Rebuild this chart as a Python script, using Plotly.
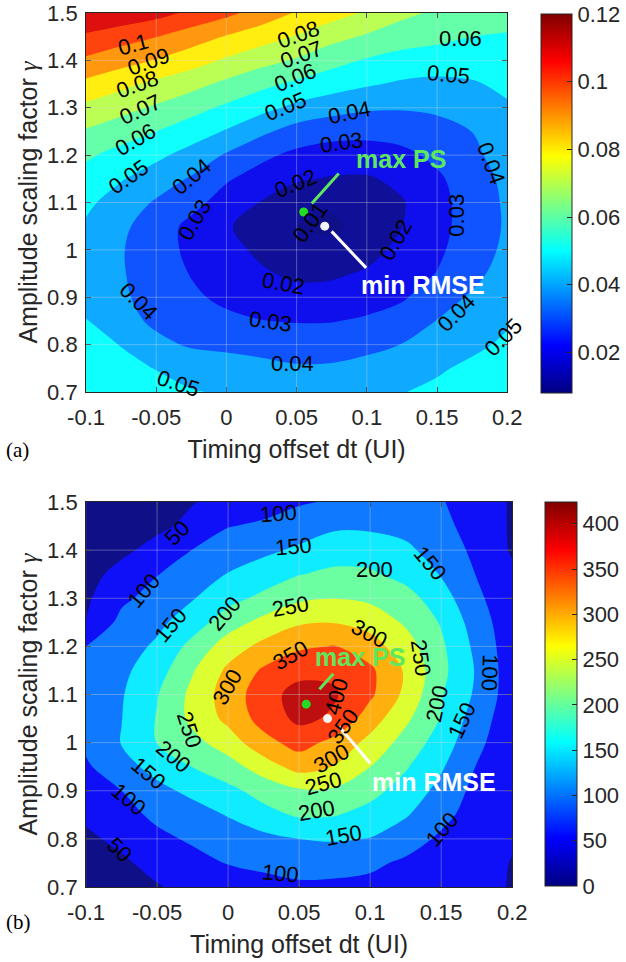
import plotly.graph_objects as go

# ---------------- data ----------------
dt_vals = [-0.1, -0.075, -0.05, -0.025, 0.0, 0.025, 0.05, 0.075, 0.1, 0.125, 0.15, 0.175, 0.2]
gamma_vals = [1.5, 1.45, 1.4, 1.35, 1.3, 1.25, 1.2, 1.15, 1.1, 1.05, 1.0,
              0.95, 0.9, 0.85, 0.8, 0.75, 0.7]          # rows listed top -> bottom

# (a) RMSE surface, rows follow gamma_vals
rmse_rows = [
    [0.1200, 0.1170, 0.1135, 0.1080, 0.1025, 0.0958, 0.0891, 0.0840, 0.0787, 0.0724, 0.0684, 0.0657, 0.0630],
    [0.1082, 0.1042, 0.1002, 0.0948, 0.0893, 0.0843, 0.0792, 0.0733, 0.0687, 0.0645, 0.0629, 0.0600, 0.0593],
    [0.0983, 0.0939, 0.0895, 0.0843, 0.0785, 0.0733, 0.0690, 0.0631, 0.0590, 0.0563, 0.0545, 0.0546, 0.0557],
    [0.0874, 0.0825, 0.0776, 0.0732, 0.0677, 0.0625, 0.0580, 0.0546, 0.0511, 0.0486, 0.0479, 0.0490, 0.0521],
    [0.0776, 0.0732, 0.0686, 0.0635, 0.0582, 0.0530, 0.0476, 0.0437, 0.0413, 0.0408, 0.0419, 0.0447, 0.0488],
    [0.0689, 0.0645, 0.0600, 0.0548, 0.0491, 0.0420, 0.0358, 0.0335, 0.0329, 0.0340, 0.0360, 0.0401, 0.0470],
    [0.0615, 0.0567, 0.0521, 0.0464, 0.0389, 0.0320, 0.0278, 0.0255, 0.0254, 0.0275, 0.0323, 0.0378, 0.0446],
    [0.0564, 0.0507, 0.0451, 0.0390, 0.0310, 0.0262, 0.0212, 0.0192, 0.0190, 0.0222, 0.0284, 0.0353, 0.0424],
    [0.0520, 0.0455, 0.0389, 0.0330, 0.0260, 0.0195, 0.0137, 0.0118, 0.0140, 0.0193, 0.0269, 0.0344, 0.0415],
    [0.0488, 0.0421, 0.0347, 0.0275, 0.0211, 0.0152, 0.0097, 0.0083, 0.0133, 0.0199, 0.0270, 0.0343, 0.0412],
    [0.0462, 0.0407, 0.0341, 0.0279, 0.0228, 0.0182, 0.0130, 0.0131, 0.0172, 0.0222, 0.0282, 0.0354, 0.0420],
    [0.0458, 0.0408, 0.0351, 0.0295, 0.0253, 0.0211, 0.0182, 0.0188, 0.0209, 0.0256, 0.0303, 0.0370, 0.0445],
    [0.0475, 0.0414, 0.0364, 0.0317, 0.0278, 0.0258, 0.0233, 0.0231, 0.0260, 0.0288, 0.0355, 0.0413, 0.0465],
    [0.0503, 0.0431, 0.0383, 0.0355, 0.0322, 0.0302, 0.0295, 0.0296, 0.0313, 0.0345, 0.0403, 0.0447, 0.0490],
    [0.0533, 0.0497, 0.0422, 0.0390, 0.0374, 0.0361, 0.0350, 0.0355, 0.0377, 0.0402, 0.0443, 0.0482, 0.0515],
    [0.0555, 0.0525, 0.0497, 0.0457, 0.0452, 0.0432, 0.0412, 0.0413, 0.0428, 0.0453, 0.0489, 0.0518, 0.0543],
    [0.0605, 0.0562, 0.0534, 0.0507, 0.0489, 0.0477, 0.0466, 0.0468, 0.0478, 0.0497, 0.0518, 0.0540, 0.0562],
]

# (b) PS surface, rows follow gamma_vals
ps_rows = [
    [8, 22, 33, 48, 63, 79, 95, 105, 115, 113, 103, 78, 45],
    [15, 30, 40, 62, 98, 108, 125, 143, 142, 133, 111, 83, 44],
    [22, 40, 66, 101, 125, 140, 158, 176, 176, 161, 126, 89, 45],
    [33, 66, 98, 124, 152, 174, 198, 211, 207, 183, 147, 98, 58],
    [42, 90, 119, 147, 184, 212, 242, 249, 240, 220, 172, 110, 65],
    [51, 114, 138, 175, 227, 265, 294, 298, 282, 243, 196, 125, 68],
    [100, 128, 158, 216, 275, 314, 343, 352, 322, 272, 209, 137, 70],
    [115, 139, 178, 246, 310, 357, 382, 392, 360, 294, 214, 145, 72],
    [125, 146, 197, 263, 324, 376, 422, 405, 359, 288, 204, 141, 72],
    [123, 149, 203, 262, 313, 370, 412, 392, 325, 260, 197, 124, 70],
    [110, 152, 201, 234, 275, 333, 369, 335, 285, 231, 177, 111, 68],
    [93, 132, 167, 201, 228, 276, 319, 298, 250, 205, 156, 98, 65],
    [75, 100, 136, 162, 188, 217, 243, 242, 215, 180, 135, 85, 62],
    [58, 82, 111, 129, 153, 185, 206, 203, 183, 155, 112, 82, 60],
    [42, 60, 88, 107, 124, 136, 150, 155, 148, 119, 93, 75, 55],
    [25, 43, 64, 83, 102, 108, 116, 113, 108, 93, 82, 68, 48],
    [10, 28, 47, 62, 78, 88, 93, 93, 89, 82, 72, 60, 48],
]

rmse_levels = [0.01, 0.02, 0.03, 0.04, 0.05, 0.06, 0.07, 0.08, 0.09, 0.10, 0.11]
ps_levels = [50, 100, 150, 200, 250, 300, 350, 400]
rmse_crange = [0.008, 0.12]
ps_crange = [0, 424]

max_ps_pt = [0.055, 1.08]
min_rmse_pt = [0.07, 1.05]

# contour-label placement: (level, dt, gamma, angle)
rmse_label_pos = [
    (0.10, -0.0665, 1.433, -15), (0.09, -0.0554, 1.398, -20), (0.08, -0.0636, 1.349, -20),
    (0.07, -0.0613, 1.296, -25), (0.06, -0.0648, 1.233, -30), (0.05, -0.0695, 1.155, -35),
    (0.04, -0.0249, 1.155, -40), (0.03, -0.0225, 1.064, -60), (0.08, 0.0514, 1.454, -20),
    (0.07, 0.0538, 1.412, -20), (0.06, 0.0491, 1.363, -22), (0.05, 0.0420, 1.303, -22),
    (0.04, 0.0878, 1.289, -12), (0.03, 0.0819, 1.226, -8), (0.02, 0.0491, 1.141, -22),
    (0.01, 0.0596, 1.057, -55), (0.06, 0.1664, 1.447, 0), (0.05, 0.1582, 1.370, 5),
    (0.04, 0.1887, 1.183, 70), (0.03, 0.1641, 1.074, -90), (0.02, 0.1207, 1.022, -60),
    (0.02, 0.0408, 0.930, 10), (0.03, 0.0315, 0.849, 8), (0.04, 0.0467, 0.761, 0),
    (0.05, -0.0343, 0.719, 18), (0.04, -0.0624, 0.891, 45), (0.04, 0.1641, 0.867, -45),
    (0.05, 0.1970, 0.815, -45),
]
ps_label_pos = [
    (100, 0.0357, 1.4765, -4), (50, -0.0362, 1.435, -45), (150, 0.0462, 1.407, -5),
    (150, 0.1425, 1.373, 50), (200, 0.1030, 1.359, 0), (100, -0.0594, 1.317, -50),
    (250, 0.0438, 1.283, -10), (200, -0.0026, 1.269, -50), (150, -0.0408, 1.244, -50),
    (300, 0.0995, 1.227, 28), (350, 0.0438, 1.182, -30), (250, 0.1353, 1.176, 82),
    (100, 0.1840, 1.145, 92), (300, -0.0002, 1.116, -60), (400, 0.0763, 1.096, -75),
    (200, 0.1469, 1.082, -78), (150, 0.1643, 1.047, -65), (250, -0.0269, 1.026, 72),
    (350, 0.0810, 1.033, -55), (200, -0.0385, 0.971, 40), (300, 0.0728, 0.967, -30),
    (150, -0.0559, 0.936, 40), (250, 0.0670, 0.915, -15), (100, -0.0698, 0.881, 40),
    (200, 0.0624, 0.860, -10), (150, 0.0810, 0.808, -10), (100, 0.1506, 0.819, -50),
    (50, -0.0768, 0.777, 45), (100, 0.0369, 0.728, 5),
]

x_ticks = [-0.1, -0.05, 0, 0.05, 0.1, 0.15, 0.2]
x_ticktext = ['-0.1', '-0.05', '0', '0.05', '0.1', '0.15', '0.2']
y_ticks = [0.7, 0.8, 0.9, 1.0, 1.1, 1.2, 1.3, 1.4, 1.5]
y_ticktext = ['0.7', '0.8', '0.9', '1', '1.1', '1.2', '1.3', '1.4', '1.5']
cb_a_ticks = [0.02, 0.04, 0.06, 0.08, 0.1, 0.12]
cb_a_text = ['0.02', '0.04', '0.06', '0.08', '0.1', '0.12']
cb_b_ticks = [0, 50, 100, 150, 200, 250, 300, 350, 400]

# ---------------- helpers ----------------
W, H = 626, 962
FONT = 'Liberation Sans, Arial, sans-serif'
SERIF = 'Liberation Serif, Times New Roman, serif'
TXT = '#262626'


def jet_rgb(t):
    t = min(max(t, 0.0), 1.0)
    r = min(max(min(4 * t - 1.5, -4 * t + 4.5), 0), 1)
    g = min(max(min(4 * t - 0.5, -4 * t + 3.5), 0), 1)
    b = min(max(min(4 * t + 0.5, -4 * t + 2.5), 0), 1)
    return r, g, b


def jet(t, wash=0.0):
    r, g, b = jet_rgb(t)
    r, g, b = [c + (1 - c) * wash for c in (r, g, b)]
    return 'rgb(%d,%d,%d)' % (round(r * 255), round(g * 255), round(b * 255))


jet_scale = [[p, jet(p)] for p in [0, 0.125, 0.25, 0.375, 0.5, 0.625, 0.75, 0.875, 1]]


def band_scale(levels, crange, wash=0.06):
    nc = len(levels)
    cols = [jet(0, wash)] + [jet((L - crange[0]) / (crange[1] - crange[0]), wash) for L in levels]
    sc = []
    for j, c in enumerate(cols):
        lo = max(0.0, (j - 0.5) / nc)
        hi = min(1.0, (j + 0.5) / nc)
        sc.append([lo, c])
        sc.append([hi, c])
    return sc


def px_x(px):
    return px / W


def px_y(py):
    return 1 - py / H


def fmt_level(v):
    return ('%.2f' % v).rstrip('0').rstrip('.')


gamma_asc = gamma_vals[::-1]
z_a = rmse_rows[::-1]
z_b = ps_rows[::-1]

fig = go.Figure()

fig.add_trace(go.Contour(
    x=dt_vals, y=gamma_asc, z=z_a, xaxis='x', yaxis='y',
    autocontour=False,
    contours=dict(start=rmse_levels[0], end=rmse_levels[-1], size=0.01,
                  coloring='fill', showlabels=False),
    line=dict(width=0, smoothing=1.0),
    colorscale=band_scale(rmse_levels, rmse_crange), showscale=False,
    hoverinfo='skip'))

fig.add_trace(go.Contour(
    x=dt_vals, y=gamma_asc, z=z_b, xaxis='x2', yaxis='y2',
    autocontour=False,
    contours=dict(start=ps_levels[0], end=ps_levels[-1], size=50,
                  coloring='fill', showlabels=False),
    line=dict(width=0, smoothing=1.0),
    colorscale=band_scale(ps_levels, ps_crange), showscale=False,
    hoverinfo='skip'))

# colorbars (continuous jet) through invisible marker traces
cb_common = dict(xanchor='left', yanchor='middle', lenmode='fraction',
                 thicknessmode='pixels', outlinecolor=TXT, outlinewidth=1,
                 ticks='inside', ticklen=5, tickcolor=TXT, xpad=0, ypad=0,
                 tickfont=dict(size=22, family=FONT, color=TXT))
fig.add_trace(go.Scatter(
    x=[max_ps_pt[0]], y=[max_ps_pt[1]], xaxis='x', yaxis='y', mode='markers',
    marker=dict(size=1, opacity=0, color=[rmse_crange[0]], colorscale=jet_scale,
                cmin=rmse_crange[0], cmax=rmse_crange[1], showscale=True,
                colorbar=dict(x=px_x(547), y=px_y((14 + 393) / 2), len=379 / H,
                              thickness=31, tickvals=cb_a_ticks, ticktext=cb_a_text,
                              **cb_common)),
    showlegend=False, hoverinfo='skip'))
fig.add_trace(go.Scatter(
    x=[max_ps_pt[0]], y=[max_ps_pt[1]], xaxis='x2', yaxis='y2', mode='markers',
    marker=dict(size=1, opacity=0, color=[ps_crange[0]], colorscale=jet_scale,
                cmin=ps_crange[0], cmax=ps_crange[1], showscale=True,
                colorbar=dict(x=px_x(551), y=px_y((502 + 886) / 2), len=384 / H,
                              thickness=32, tickvals=cb_b_ticks,
                              **cb_common)),
    showlegend=False, hoverinfo='skip'))

# markers for max PS and min RMSE in both panels
for xa, ya in (('x', 'y'), ('x2', 'y2')):
    fig.add_trace(go.Scatter(x=[max_ps_pt[0]], y=[max_ps_pt[1]], xaxis=xa, yaxis=ya,
                             mode='markers', marker=dict(size=9, color='#22dd22'),
                             showlegend=False, hoverinfo='skip'))
    fig.add_trace(go.Scatter(x=[min_rmse_pt[0]], y=[min_rmse_pt[1]], xaxis=xa, yaxis=ya,
                             mode='markers', marker=dict(size=9, color='#f4f4f4'),
                             showlegend=False, hoverinfo='skip'))

GREEN = '#5fe65f'
shapes = []
annotations = []

# light grid lines above the fills
for xr, yr in (('x', 'y'), ('x2', 'y2')):
    for xv in x_ticks[1:-1]:
        shapes.append(dict(type='line', xref=xr, yref=yr + ' domain', x0=xv, x1=xv, y0=0, y1=1,
                           line=dict(color='rgba(220,220,220,0.35)', width=1), layer='above'))
    for yv in y_ticks[1:-1]:
        shapes.append(dict(type='line', xref=xr + ' domain', yref=yr, x0=0, x1=1, y0=yv, y1=yv,
                           line=dict(color='rgba(220,220,220,0.35)', width=1), layer='above'))

# contour labels
for xr, yr, items in (('x', 'y', rmse_label_pos), ('x2', 'y2', ps_label_pos)):
    for lev, xx, yy, ang in items:
        annotations.append(dict(xref=xr, yref=yr, x=xx, y=yy, text=fmt_level(lev),
                                textangle=ang, showarrow=False,
                                font=dict(size=22, color='black', family=FONT)))

# pointer lines and texts
pointers = [
    ('x', 'y', GREEN, (0.0608, 1.098, 0.0800, 1.161)),
    ('x', 'y', 'white', (0.0749, 1.039, 0.0995, 0.962)),
    ('x2', 'y2', GREEN, (0.0643, 1.111, 0.0741, 1.143)),
    ('x2', 'y2', 'white', (0.0782, 1.033, 0.1000, 0.957)),
]
for xr, yr, col, (x0, y0, x1, y1) in pointers:
    shapes.append(dict(type='line', xref=xr, yref=yr, x0=x0, y0=y0, x1=x1, y1=y1,
                       line=dict(color=col, width=3), layer='above'))

labels = [
    ('x', 'y', GREEN, 'max PS', 0.1246, 1.192),
    ('x', 'y', 'white', 'min RMSE', 0.1399, 0.9265),
    ('x2', 'y2', GREEN, 'max PS', 0.0930, 1.1786),
    ('x2', 'y2', 'white', 'min RMSE', 0.1452, 0.9188),
]
for xr, yr, col, txt, xx, yy in labels:
    annotations.append(dict(xref=xr, yref=yr, x=xx, y=yy, text='<b>%s</b>' % txt,
                            showarrow=False, font=dict(size=25, color=col, family=FONT)))

annotations.append(dict(xref='paper', yref='paper', x=px_x(4), y=px_y(450), xanchor='left',
                        yanchor='middle', text='(a)', showarrow=False,
                        font=dict(size=21, color='black', family=SERIF)))
annotations.append(dict(xref='paper', yref='paper', x=px_x(4), y=px_y(922), xanchor='left',
                        yanchor='middle', text='(b)', showarrow=False,
                        font=dict(size=21, color='black', family=SERIF)))

axis_common = dict(showline=True, mirror='ticks', linecolor=TXT, linewidth=1,
                   ticks='inside', ticklen=5, tickcolor=TXT, showgrid=False,
                   zeroline=False, automargin=False,
                   tickfont=dict(size=22, family=FONT, color=TXT))

ytitle = 'Amplitude scaling factor <span style="font-family:Liberation Serif"><i>γ</i></span>'
xa_common = dict(range=[dt_vals[0], dt_vals[-1]], tickvals=x_ticks, ticktext=x_ticktext,
                 ticklabelstandoff=6,
                 title=dict(text='Timing offset dt (UI)', standoff=11,
                            font=dict(size=25, family=FONT, color=TXT)), **axis_common)
ya_common = dict(range=[gamma_vals[-1], gamma_vals[0]], tickvals=y_ticks, ticktext=y_ticktext,
                 ticklabelstandoff=3,
                 title=dict(text=ytitle, standoff=2,
                            font=dict(size=25, family=FONT, color=TXT)), **axis_common)

fig.update_layout(
    width=W, height=H, margin=dict(l=0, r=0, t=0, b=0),
    paper_bgcolor='white', plot_bgcolor='white', showlegend=False,
    xaxis=dict(domain=[px_x(87), px_x(513)], anchor='y', **xa_common),
    yaxis=dict(domain=[px_y(392), px_y(13)], anchor='x', **ya_common),
    xaxis2=dict(domain=[px_x(87), px_x(518)], anchor='y2', **xa_common),
    yaxis2=dict(domain=[px_y(887), px_y(502)], anchor='x2', **ya_common),
    shapes=shapes, annotations=annotations,
)

fig.write_html('out.html')
